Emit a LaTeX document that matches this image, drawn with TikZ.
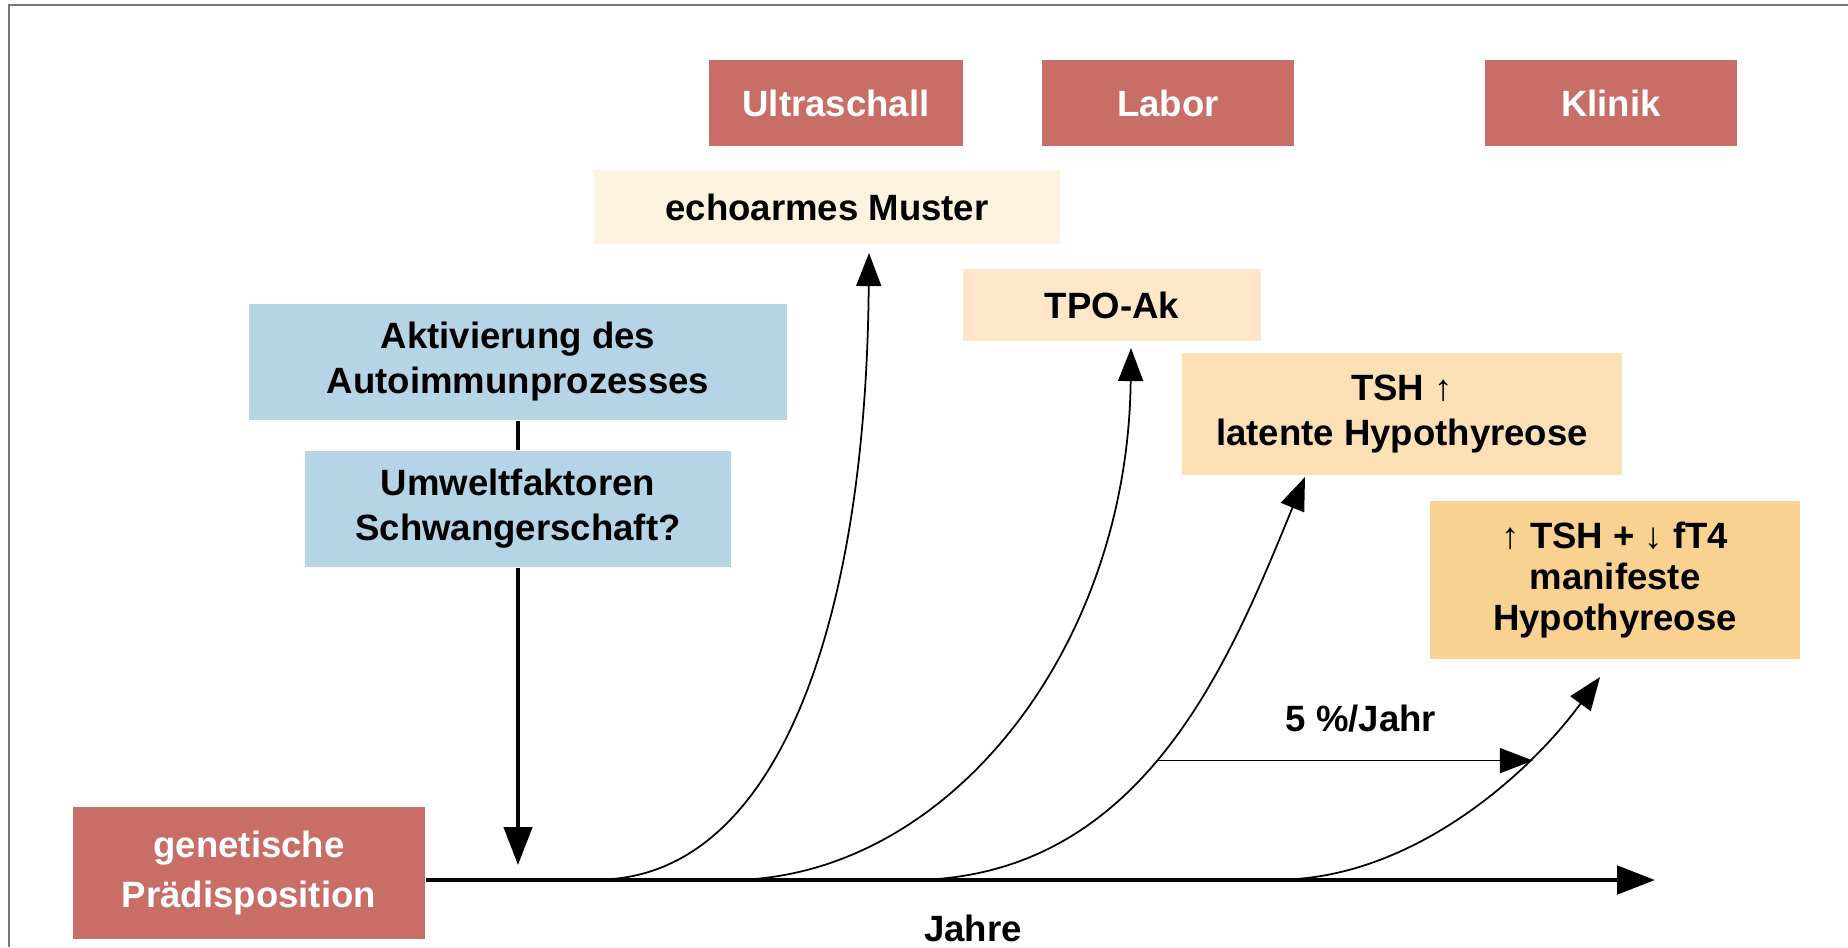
\documentclass[tikz,border=0pt]{standalone}
\usepackage{fontspec}
\setmainfont{Liberation Sans}
\usetikzlibrary{arrows.meta}

\definecolor{headred}{HTML}{C86E67}
\definecolor{echocream}{HTML}{FDF1DF}
\definecolor{tpocream}{HTML}{FCE7C9}
\definecolor{latentorange}{HTML}{FBE0B6}
\definecolor{manifestorange}{HTML}{F9D291}
\definecolor{causeblue}{HTML}{B5D5E7}
\definecolor{framegrey}{HTML}{777777}

\begin{document}
\begin{tikzpicture}[x=0.01cm,y=-0.01cm,
		box/.style={inner sep=0pt,align=center,font=\fontsize{10.4}{12.8}\selectfont\bfseries},
		head/.style={box,fill=headred,text=white},
		finding/.style={box,text=black},
		cause/.style={box,fill=causeblue},
		course/.style={line width=0.5pt,-{Triangle[length=9.4pt,width=7.1pt]}},
		thick arrow/.style={line width=1.1pt,-{Triangle[length=10.8pt,width=8pt]}}
	]
	\useasboundingbox (0,0) rectangle (1848,947);
	\draw[framegrey,line width=0.6pt] (9,947) -- (9,5) -- (1848,5);

	% Kopfzeile
	\node[head,minimum width=2.53cm,minimum height=0.85cm] (ultra) at (836,103) {Ultraschall};
	\node[head,minimum width=2.52cm,minimum height=0.85cm] (labor) at (1168,103) {Labor};
	\node[head,minimum width=2.52cm,minimum height=0.85cm] (klinik) at (1611,103) {Klinik};

	% Befunde
	\node[finding,fill=echocream,minimum width=4.66cm,minimum height=0.73cm] (echo) at (827,207) {echoarmes Muster};
	\node[finding,fill=tpocream,minimum width=2.98cm,minimum height=0.72cm] (tpo) at (1112,305) {TPO-Ak};
	\node[finding,fill=latentorange,minimum width=4.40cm,minimum height=1.21cm] (latent) at (1402,414) {TSH ↑\\latente Hypothyreose};
	\node[finding,fill=manifestorange,minimum width=3.70cm,minimum height=1.58cm,
		font=\fontsize{10.4}{11.6}\selectfont\bfseries] (manifest) at (1615,580) {↑ TSH + ↓ fT4\\manifeste\\Hypothyreose};

	% Ursachen
	\node[cause,minimum width=5.38cm,minimum height=1.16cm] (aktiv) at (518,362) {Aktivierung des\\Autoimmunprozesses};
	\node[cause,minimum width=4.26cm,minimum height=1.16cm] (umwelt) at (518,509) {Umweltfaktoren\\Schwangerschaft?};
	\node[head,minimum width=3.52cm,minimum height=1.32cm,
		font=\fontsize{10.4}{14}\selectfont\bfseries] (genet) at (249,873) {genetische\\Prädisposition};

	% Zeitachse
	\coordinate (axisend) at (1655,880);
	\draw[line width=1.4pt,-{Triangle[length=10.8pt,width=8pt]}] (genet.east |- axisend) -- (axisend);
	\node[box] (jahre) at (973,928) {Jahre};

	\coordinate (impact) at (518,865);
	\draw[line width=1.1pt] (aktiv.south) -- (umwelt.north);
	\draw[thick arrow] (umwelt.south) -- (impact);

	% Verlaeufe
	\coordinate (s1) at (612,879);
	\coordinate (s2) at (754,879);
	\coordinate (s3) at (937,879);
	\coordinate (s4) at (1296,879);
	\coordinate (t1) at (869,253);
	\coordinate (t2) at (1131,348);
	\coordinate (t3) at (1305,477);
	\coordinate (t4) at (1600,677);
	\draw[course] (s1) .. controls (780,865) and (866,620) .. (t1);
	\draw[course] (s2) .. controls (960,862) and (1128,640) .. (t2);
	\draw[course] (s3) .. controls (1150,862) and (1232,655) .. coordinate[pos=0.45] (split) (t3);
	\draw[course] (s4) .. controls (1420,870) and (1529,774) .. (t4);

	\coordinate (rateend) at (1533,0);
	\draw[course] (split) -- (split -| rateend);
	\node[box] (rate) at (1361,719) {5 \%/Jahr};
\end{tikzpicture}
\end{document}
